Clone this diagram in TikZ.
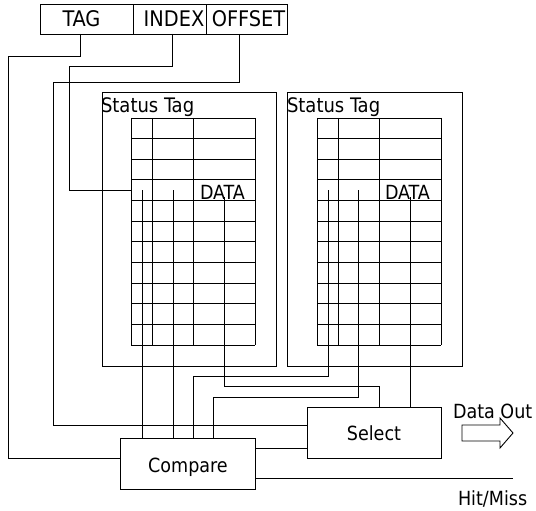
\documentclass[tikz,border=0pt]{standalone}
\usepackage{fontspec}
\setmainfont{DejaVu Sans Condensed}
\begin{document}
\begin{tikzpicture}[x=1pt,y=-1pt,
  line width=0.9pt,
  every node/.style={inner sep=0pt,outer sep=0pt},
  lbl/.style={font=\fontsize{19.5}{22}\selectfont},
  stlbl/.style={font=\fontsize{20}{22}\selectfont},
  toplbl/.style={font=\fontsize{21.5}{22}\selectfont},
  blk/.style={draw,rectangle,inner sep=0pt}]
\useasboundingbox (0,0) rectangle (536,511);

% address register
\node[blk,minimum width=93pt,minimum height=30pt] (tag) at (86.5,19) {};
\node[blk,minimum width=73pt,minimum height=30pt] (idx) at (169.5,19) {};
\node[blk,minimum width=81pt,minimum height=30pt] (off) at (246.5,19) {};
\node[toplbl] (tagt) at (81.5,19) {TAG};
\node[toplbl] (idxt) at (174,19) {INDEX};
\node[toplbl] (offt) at (248.5,19) {OFFSET};

% cache ways
\node[blk,minimum width=174pt,minimum height=274pt] (wayA) at (189,229) {};
\node[blk,minimum width=175pt,minimum height=274pt] (wayB) at (374.5,229) {};
\node[stlbl,anchor=base west] (stA) at (101,113) {Status Tag};
\node[stlbl,anchor=base west] (stB) at (287,113) {Status Tag};

% grids
\foreach \xo in {0,186}{
  \foreach \k in {0,...,11}{
    \draw ({131+\xo},{118+\k*20.636}) -- ({255+\xo},{118+\k*20.636});
  }
  \foreach \xx in {131,152,193,255}{
    \draw ({\xx+\xo},118) -- ({\xx+\xo},345);
  }
}
\node[lbl,anchor=base west] (dA) at (200,199) {DATA};
\node[lbl,anchor=base west] (dB) at (385,199) {DATA};

% compare / select
\node[blk,minimum width=135pt,minimum height=51pt] (cmp) at (187.5,463.5) {};
\node[lbl,anchor=base] (cmpt) at (188,472) {Compare};
\node[blk,minimum width=134pt,minimum height=51pt] (sel) at (374,432.5) {};
\node[lbl,anchor=base] (selt) at (374,440) {Select};

% outputs
\node[lbl,anchor=base west] (dout) at (453,418) {Data Out};
\node[lbl,anchor=base west] (hm) at (458,505) {Hit/Miss};
\draw (462,425) -- (500,425) -- (500,418) -- (513,433) -- (500,448) -- (500,441) -- (462,441) -- cycle;

% address connectors
\coordinate (a1) at (80,34);
\coordinate (a2) at (8,56);
\coordinate (a3) at (120,458);
\draw (a1) |- (a2) |- (a3);

\coordinate (b1) at (172,34);
\coordinate (b2) at (69,66);
\coordinate (b3) at (131,190);
\draw (b1) |- (b2) |- (b3);

\coordinate (c1) at (239,34);
\coordinate (c2) at (53,82);
\coordinate (c3) at (307,425);
\draw (c1) |- (c2) |- (c3);

% way A tag lines
\coordinate (p1) at (142,190);
\coordinate (p2) at (173,190);
\draw (p1) -- (p1 |- cmp.north);
\draw (p2) -- (p2 |- cmp.north);
% way A data
\coordinate (p3) at (224,197);
\coordinate (p4) at (379,386);
\draw (p3) |- (p4) -- (p4 |- sel.north);

% way B tag lines
\coordinate (q1) at (328,190);
\coordinate (q2) at (193,376);
\draw (q1) |- (q2) -- (q2 |- cmp.north);
\coordinate (q3) at (358,190);
\coordinate (q4) at (213,397);
\draw (q3) |- (q4) -- (q4 |- cmp.north);
% way B data
\coordinate (q5) at (410,197);
\draw (q5) -- (q5 |- sel.north);

% compare outputs
\coordinate (r1) at (255,448);
\draw (r1) -- (r1 -| sel.west);
\coordinate (r2) at (255,478);
\coordinate (r3) at (513,478);
\draw (r2) -- (r3);
\end{tikzpicture}
\end{document}
